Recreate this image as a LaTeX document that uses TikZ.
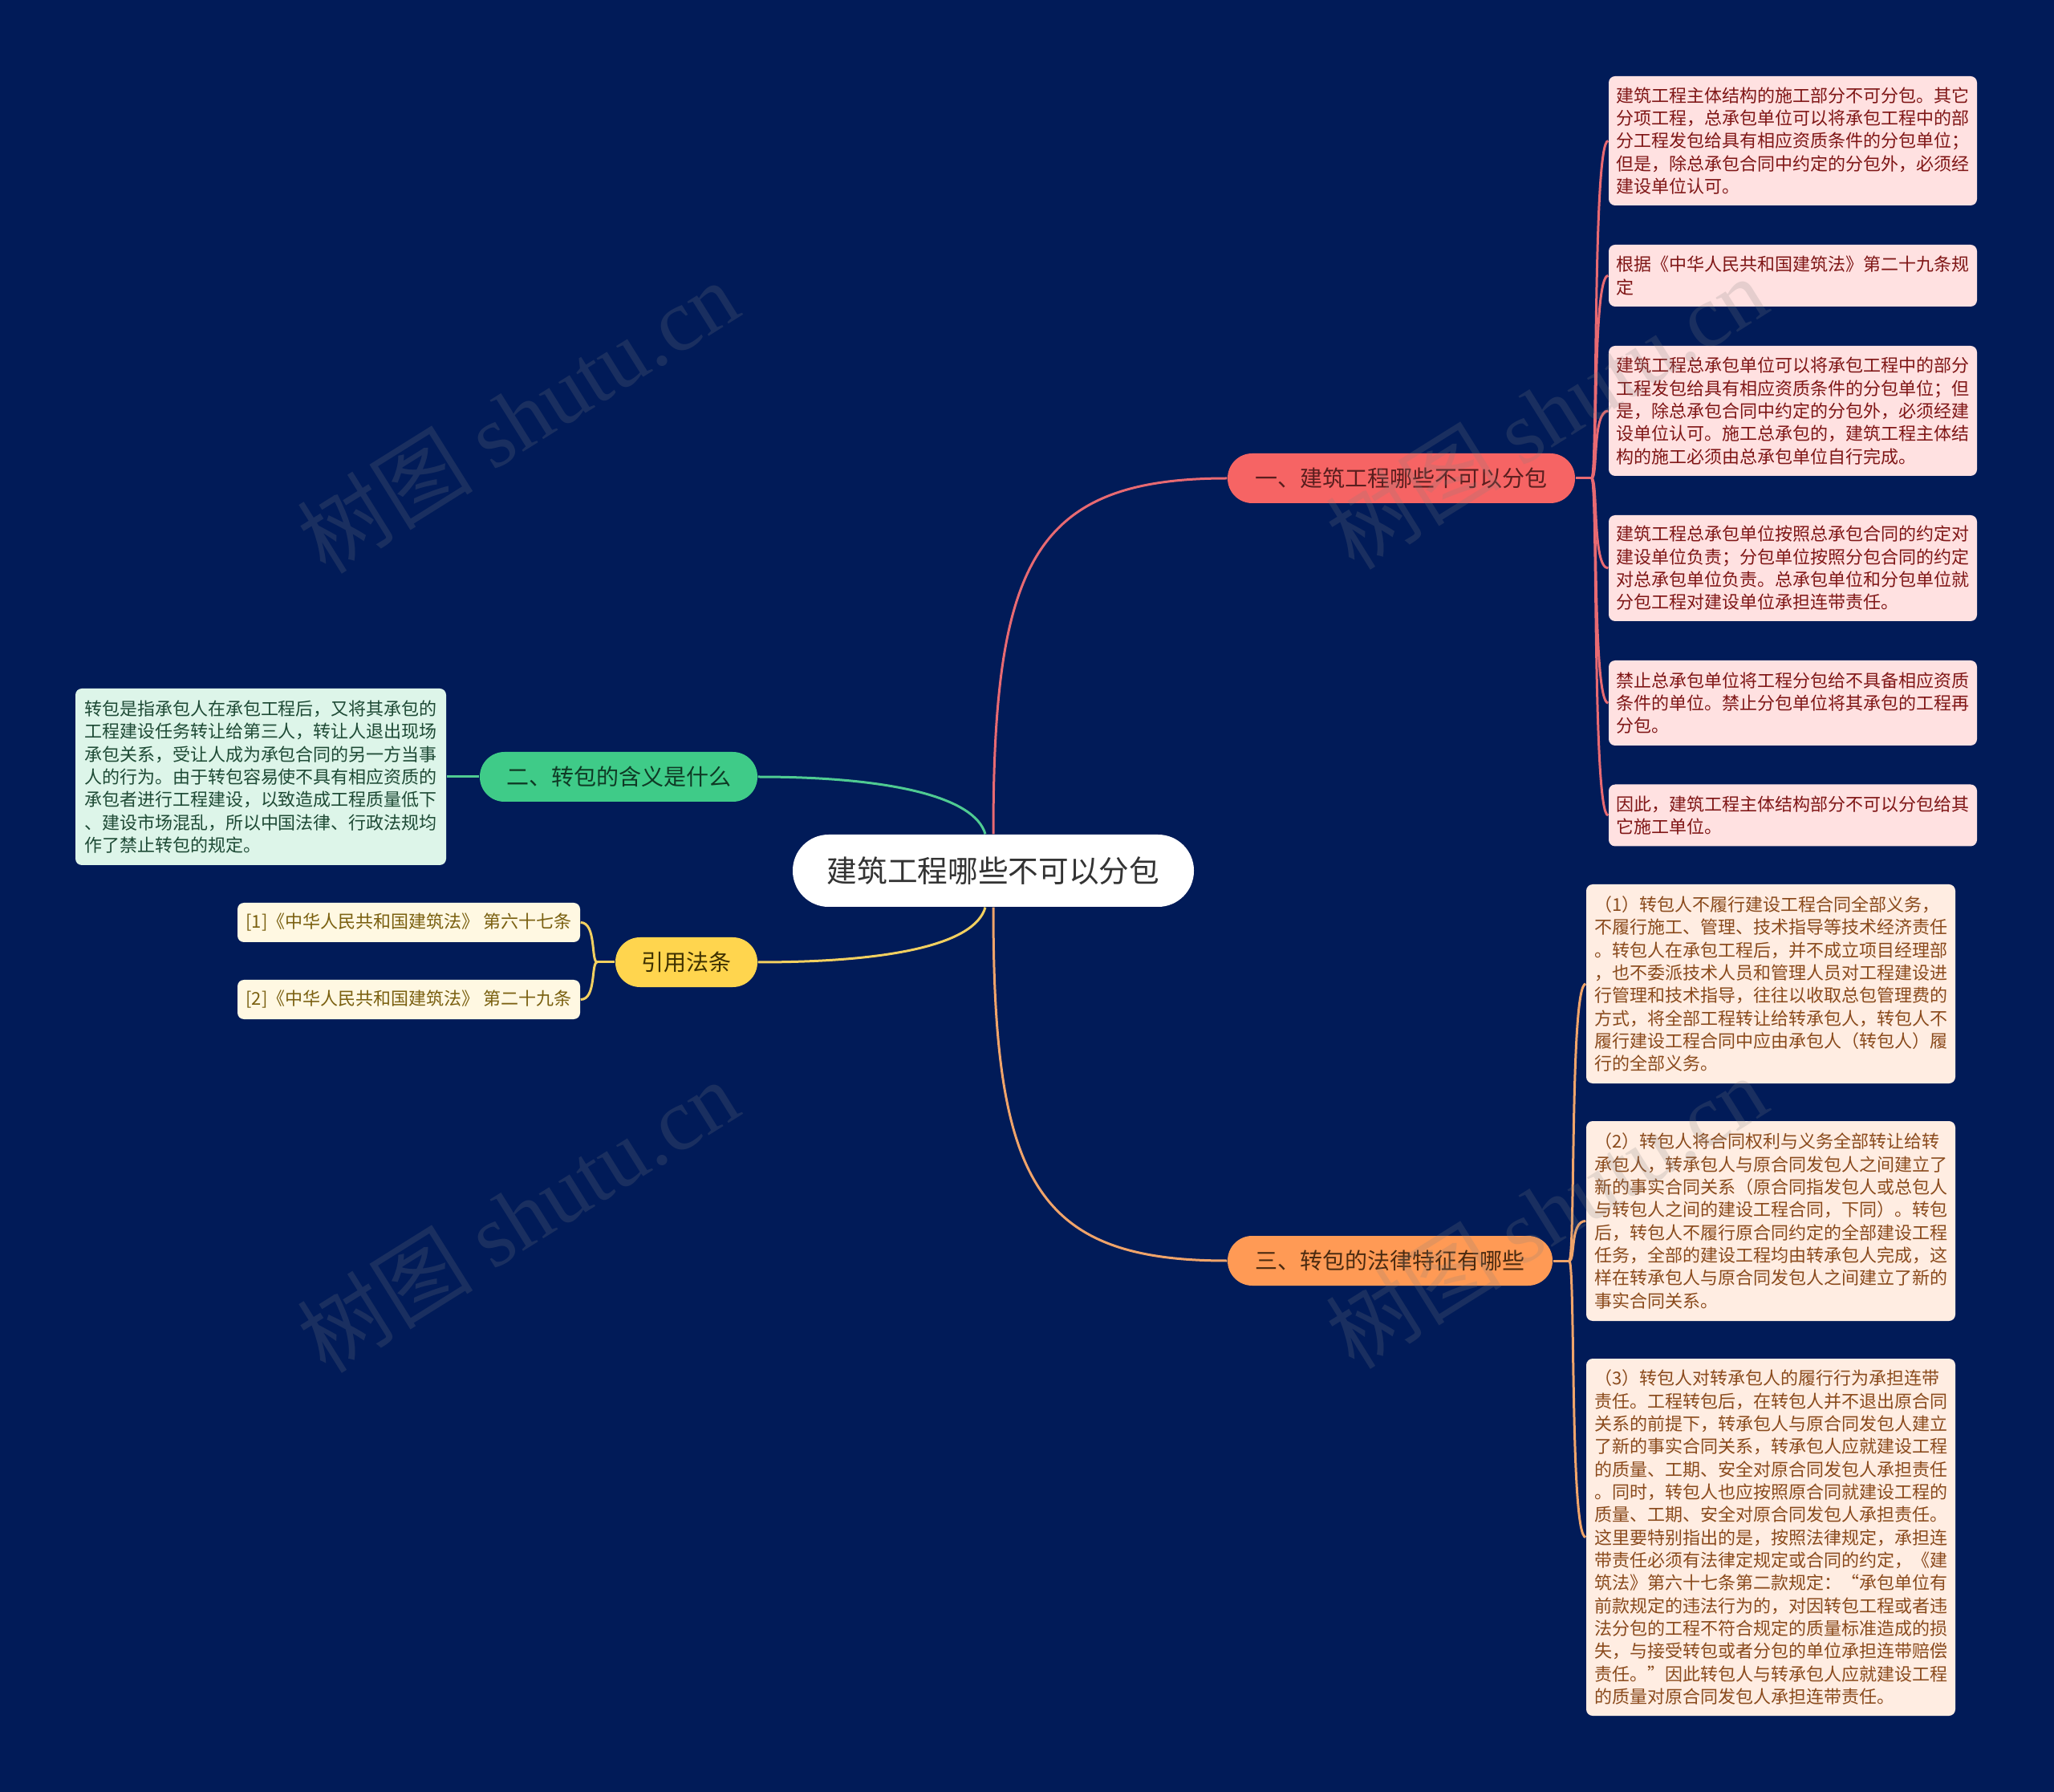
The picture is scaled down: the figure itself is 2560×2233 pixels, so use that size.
\documentclass[tikz,border=0pt]{standalone}
\usepackage{fontspec}
\setmainfont{Noto Sans CJK SC}
\newfontfamily\wmserif{Liberation Serif}
\usetikzlibrary{calc}
\definecolor{bgnavy}{HTML}{011B58}
\definecolor{redpill}{HTML}{F66464}
\definecolor{redline}{HTML}{E86A72}
\definecolor{pinkfill}{HTML}{FFE1E1}
\definecolor{redtext}{HTML}{7F1616}
\definecolor{redpilltext}{HTML}{5A1E1E}
\definecolor{orangepill}{HTML}{FF9A55}
\definecolor{orangeline}{HTML}{F0A46A}
\definecolor{peachfill}{HTML}{FFEDE2}
\definecolor{browntext}{HTML}{8A4A1C}
\definecolor{orangepilltext}{HTML}{4A2A10}
\definecolor{greenpill}{HTML}{3FCB88}
\definecolor{greenline}{HTML}{4FCB92}
\definecolor{mintfill}{HTML}{DDF5E9}
\definecolor{greentext}{HTML}{1E4A35}
\definecolor{greenpilltext}{HTML}{0F3A25}
\definecolor{yellowpill}{HTML}{FFD54E}
\definecolor{yellowline}{HTML}{F2D060}
\definecolor{creamfill}{HTML}{FFF8E2}
\definecolor{olivetext}{HTML}{7A6010}
\definecolor{yellowpilltext}{HTML}{3D3000}
\definecolor{centertext}{HTML}{333333}
\newcommand\leaffont{\fontsize{6.6pt}{8.5pt}\selectfont}
\newcommand\branchfont{\fontsize{8.4pt}{10pt}\selectfont}
\newcommand\centerfont{\fontsize{11.3pt}{13pt}\selectfont}
\begin{document}
\begin{tikzpicture}[x=0.3pt,y=-0.3pt,
  leafbox/.style={rounded corners=2.4pt, align=left, font=\leaffont, inner sep=0pt},
  leafred/.style={leafbox, fill=pinkfill, text=redtext, minimum width=459*0.3pt},
  leaforange/.style={leafbox, fill=peachfill, text=browntext, minimum width=460*0.3pt},
  leafgreen/.style={leafbox, fill=mintfill, text=greentext, minimum width=462*0.3pt},
  leafyellow/.style={leafbox, fill=creamfill, text=olivetext, minimum width=427*0.3pt, minimum height=49*0.3pt},
  pill/.style={rounded corners=9.2pt, minimum height=62*0.3pt, inner sep=0pt, font=\branchfont},
  conn/.style={line width=0.9pt},
  wm/.style={rotate=32, text=gray, text opacity=0.2, font=\fontsize{33pt}{36pt}\selectfont, inner sep=0pt}
]
\fill[bgnavy] (0,0) rectangle (2560,2233);
\useasboundingbox (0,0) rectangle (2560,2233);

% central
\node[fill=white, rounded corners=13.4pt, minimum width=500*0.3pt, minimum height=90*0.3pt, inner sep=0pt, text=centertext, font=\centerfont] (c) at (1238,1085) {建筑工程哪些不可以分包};

% branches
\node[pill, fill=redpill, text=redpilltext, minimum width=433*0.3pt] (b1) at (1746.5,596) {一、建筑工程哪些不可以分包};
\node[pill, fill=orangepill, text=orangepilltext, minimum width=405*0.3pt] (b3) at (1732.5,1571) {三、转包的法律特征有哪些};
\node[pill, fill=greenpill, text=greenpilltext, minimum width=346*0.3pt] (b2) at (771,968) {二、转包的含义是什么};
\node[pill, fill=yellowpill, text=yellowpilltext, minimum width=177*0.3pt] (b4) at (855.5,1199) {引用法条};

% leaves of branch 1
\node[leafred, minimum height=161*0.3pt] (L1) at (2234.5,175.5) {建筑工程主体结构的施工部分不可分包。其它\\分项工程，总承包单位可以将承包工程中的部\\分工程发包给具有相应资质条件的分包单位；\\但是，除总承包合同中约定的分包外，必须经\\建设单位认可。};
\node[leafred, minimum height=77*0.3pt] (L2) at (2234.5,343.5) {根据《中华人民共和国建筑法》第二十九条规\\定};
\node[leafred, minimum height=162*0.3pt] (L3) at (2234.5,512) {建筑工程总承包单位可以将承包工程中的部分\\工程发包给具有相应资质条件的分包单位；但\\是，除总承包合同中约定的分包外，必须经建\\设单位认可。施工总承包的，建筑工程主体结\\构的施工必须由总承包单位自行完成。};
\node[leafred, minimum height=132*0.3pt] (L4) at (2234.5,708) {建筑工程总承包单位按照总承包合同的约定对\\建设单位负责；分包单位按照分包合同的约定\\对总承包单位负责。总承包单位和分包单位就\\分包工程对建设单位承担连带责任。};
\node[leafred, minimum height=106*0.3pt] (L5) at (2234.5,876) {禁止总承包单位将工程分包给不具备相应资质\\条件的单位。禁止分包单位将其承包的工程再\\分包。};
\node[leafred, minimum height=77*0.3pt] (L6) at (2234.5,1016) {因此，建筑工程主体结构部分不可以分包给其\\它施工单位。};

% leaves of branch 3
\node[leaforange, minimum height=248*0.3pt] (R1) at (2207,1226) {（1）转包人不履行建设工程合同全部义务，\\不履行施工、管理、技术指导等技术经济责任\\。转包人在承包工程后，并不成立项目经理部\\，也不委派技术人员和管理人员对工程建设进\\行管理和技术指导，往往以收取总包管理费的\\方式，将全部工程转让给转承包人，转包人不\\履行建设工程合同中应由承包人（转包人）履\\行的全部义务。};
\node[leaforange, minimum height=249*0.3pt] (R2) at (2207,1521.5) {（2）转包人将合同权利与义务全部转让给转\\承包人，转承包人与原合同发包人之间建立了\\新的事实合同关系（原合同指发包人或总包人\\与转包人之间的建设工程合同，下同）。转包\\后，转包人不履行原合同约定的全部建设工程\\任务，全部的建设工程均由转承包人完成，这\\样在转承包人与原合同发包人之间建立了新的\\事实合同关系。};
\node[leaforange, minimum height=445*0.3pt] (R3) at (2207,1915.5) {（3）转包人对转承包人的履行行为承担连带\\责任。工程转包后，在转包人并不退出原合同\\关系的前提下，转承包人与原合同发包人建立\\了新的事实合同关系，转承包人应就建设工程\\的质量、工期、安全对原合同发包人承担责任\\。同时，转包人也应按照原合同就建设工程的\\质量、工期、安全对原合同发包人承担责任。\\这里要特别指出的是，按照法律规定，承担连\\带责任必须有法律定规定或合同的约定，《建\\筑法》第六十七条第二款规定：“承包单位有\\前款规定的违法行为的，对因转包工程或者违\\法分包的工程不符合规定的质量标准造成的损\\失，与接受转包或者分包的单位承担连带赔偿\\责任。”因此转包人与转承包人应就建设工程\\的质量对原合同发包人承担连带责任。};

% leaf of branch 2
\node[leafgreen, minimum height=220*0.3pt] (G1) at (325,968) {转包是指承包人在承包工程后，又将其承包的\\工程建设任务转让给第三人，转让人退出现场\\承包关系，受让人成为承包合同的另一方当事\\人的行为。由于转包容易使不具有相应资质的\\承包者进行工程建设，以致造成工程质量低下\\、建设市场混乱，所以中国法律、行政法规均\\作了禁止转包的规定。};

% leaves of branch 4
\node[leafyellow] (Y1) at (509.5,1149.5) {[1]《中华人民共和国建筑法》 第六十七条};
\node[leafyellow] (Y2) at (509.5,1245.5) {[2]《中华人民共和国建筑法》 第二十九条};

% main connectors
\draw[conn, redline] (c.north) .. controls ($(c.north)+(0,-340)$) and ($(b1.west)+(-240,0)$) .. (b1.west);
\draw[conn, orangeline] (c.south) .. controls ($(c.south)+(0,340)$) and ($(b3.west)+(-240,0)$) .. (b3.west);
\draw[conn, greenline] (b2.east) .. controls ($(b2.east)+(166,0)$) and ($(c.north)+(-23,-46)$) .. ($(c.north)+(-10,0)$);
\draw[conn, yellowline] (b4.east) .. controls ($(b4.east)+(166,0)$) and ($(c.south)+(-23,46)$) .. ($(c.south)+(-10,0)$);

% branch 1 bracket
\coordinate (j1) at ($(b1.east)+(20,0)$);
\draw[conn, redline] (b1.east) -- (j1);
\foreach \n in {L1,L2,L3,L4,L5,L6}{
  \draw[conn, redline] (j1) .. controls ($(j1)+(8,0)$) and ($(\n.west)+(-20,0)$) .. (\n.west);
}
% branch 3 bracket
\coordinate (j3) at ($(b3.east)+(20,0)$);
\draw[conn, orangeline] (b3.east) -- (j3);
\foreach \n in {R1,R2,R3}{
  \draw[conn, orangeline] (j3) .. controls ($(j3)+(8,0)$) and ($(\n.west)+(-20,0)$) .. (\n.west);
}
% branch 2
\draw[conn, greenline] (b2.west) -- (G1.east);
% branch 4 bracket
\coordinate (j4) at ($(b4.west)+(-22,0)$);
\draw[conn, yellowline] (b4.west) -- (j4);
\foreach \n in {Y1,Y2}{
  \draw[conn, yellowline] (j4) .. controls ($(j4)+(-8,0)$) and ($(\n.east)+(20,0)$) .. (\n.east);
}

% watermarks
\node[wm] (wm1) at (645,519) {树图 {\wmserif shutu.cn}};
\node[wm] (wm2) at (1927,514) {树图 {\wmserif shutu.cn}};
\node[wm] (wm3) at (645,1515) {树图 {\wmserif shutu.cn}};
\node[wm] (wm4) at (1927,1510) {树图 {\wmserif shutu.cn}};
\end{tikzpicture}
\end{document}
